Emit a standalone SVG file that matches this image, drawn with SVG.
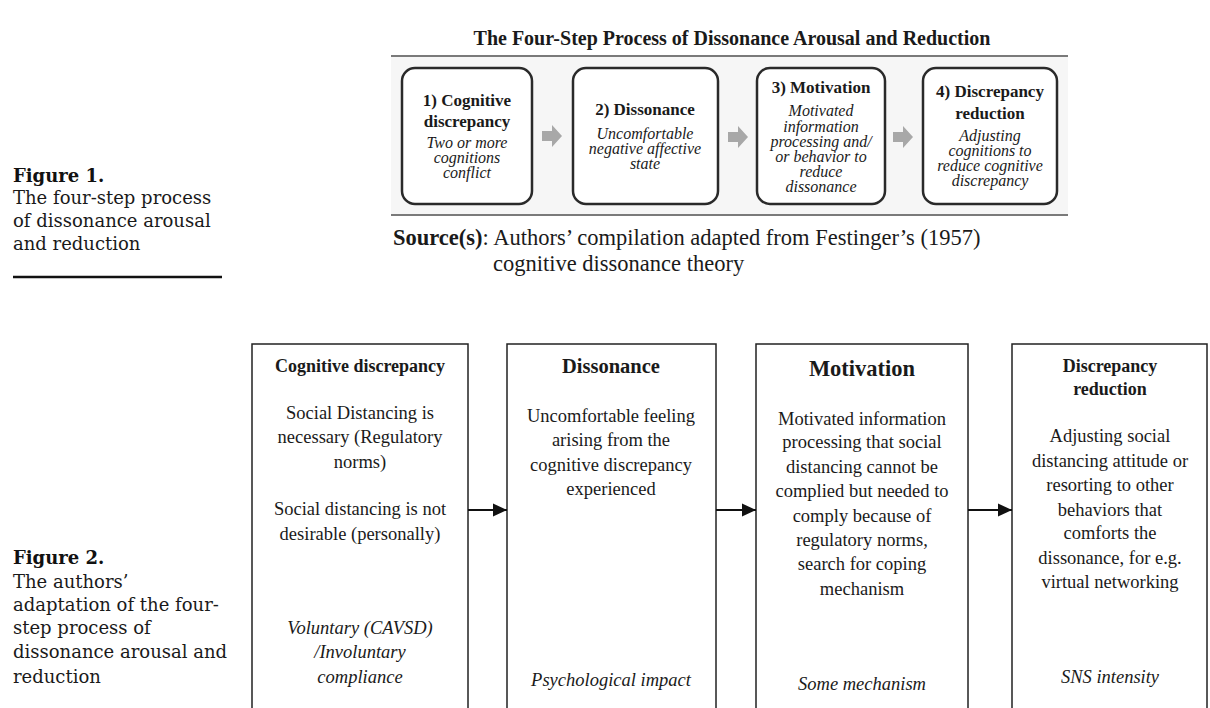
<svg xmlns="http://www.w3.org/2000/svg" width="1210" height="708" viewBox="0 0 1210 708">
<style>
.cap{font-family:"DejaVu Serif","Liberation Serif",serif;font-size:18px;fill:#1a1a1a}
.capb{font-family:"DejaVu Serif","Liberation Serif",serif;font-size:18px;font-weight:bold;fill:#111}
.t{font-family:"Liberation Serif","Times New Roman",serif;fill:#1a1a1a;text-anchor:middle}
.tb{font-weight:bold;font-size:17px}
.ti{font-style:italic;font-size:16px}
.rbox{fill:#fff;stroke:#2a2a2a;stroke-width:2.5}
.sbox{fill:#fff;stroke:#222;stroke-width:1.5}
.bb{font-weight:bold;font-size:18px}
.bd{font-size:18.5px}
.bi{font-style:italic;font-size:18.5px}
.src{font-family:"Liberation Serif","Times New Roman",serif;font-size:22.5px;fill:#1a1a1a}
.conn{stroke:#111;stroke-width:2;fill:none}
</style>
<defs>
<path id="garrow" d="M0,-5 H10 V-11 L20,0 L10,11 V5 H0 Z" fill="#a8a8a8"/>
<marker id="ah" markerWidth="14" markerHeight="14" refX="14" refY="7" orient="auto" markerUnits="userSpaceOnUse">
<path d="M0,0.5 L14,7 L0,13.5 Z" fill="#111"/>
</marker>
</defs>
<rect width="1210" height="708" fill="#fff"/>

<!-- Captions -->
<g id="caption1">
<text class="capb" x="13" y="182">Figure 1.</text>
<text class="cap" x="13" y="204">The four-step process</text>
<text class="cap" x="13" y="227">of dissonance arousal</text>
<text class="cap" x="13" y="250">and reduction</text>
<line x1="13" y1="277" x2="222" y2="277" stroke="#111" stroke-width="2.5"/>
</g>
<g id="caption2">
<text class="capb" x="13" y="564">Figure 2.</text>
<text class="cap" x="13" y="588">The authors’</text>
<text class="cap" x="13" y="611">adaptation of the four-</text>
<text class="cap" x="13" y="634">step process of</text>
<text class="cap" x="13" y="658">dissonance arousal and</text>
<text class="cap" x="13" y="683">reduction</text>
</g>

<!-- Figure 1 -->
<g id="fig1-frame">
<rect x="391" y="57" width="677" height="158" fill="#f6f6f6"/>
<text class="t" x="732" y="45" style="font-weight:bold;font-size:20px">The Four-Step Process of Dissonance Arousal and Reduction</text>
<line x1="391" y1="56" x2="1068" y2="56" stroke="#7a7a7a" stroke-width="2"/>
<line x1="391" y1="215" x2="1068" y2="215" stroke="#7a7a7a" stroke-width="2"/>
</g>
<g id="step1">
<rect class="rbox" x="402" y="68" width="130" height="136" rx="13"/>
<text class="t tb" x="467" y="106">1) Cognitive</text>
<text class="t tb" x="467" y="127">discrepancy</text>
<text class="t ti" x="467" y="148">Two or more</text>
<text class="t ti" x="467" y="163">cognitions</text>
<text class="t ti" x="467" y="178">conflict</text>
</g>
<g id="step2">
<rect class="rbox" x="573" y="68" width="145" height="136" rx="13"/>
<text class="t tb" x="645" y="115">2) Dissonance</text>
<text class="t ti" x="645" y="139">Uncomfortable</text>
<text class="t ti" x="645" y="154">negative affective</text>
<text class="t ti" x="645" y="169">state</text>
</g>
<g id="step3">
<rect class="rbox" x="757" y="68" width="128" height="136" rx="13"/>
<text class="t tb" x="821" y="93">3) Motivation</text>
<text class="t ti" x="821" y="116">Motivated</text>
<text class="t ti" x="821" y="132">information</text>
<text class="t ti" x="821" y="147">processing and/</text>
<text class="t ti" x="821" y="162">or behavior to</text>
<text class="t ti" x="821" y="177">reduce</text>
<text class="t ti" x="821" y="192">dissonance</text>
</g>
<g id="step4">
<rect class="rbox" x="923" y="68" width="134" height="136" rx="13"/>
<text class="t tb" x="990" y="97">4) Discrepancy</text>
<text class="t tb" x="990" y="119">reduction</text>
<text class="t ti" x="990" y="141">Adjusting</text>
<text class="t ti" x="990" y="156">cognitions to</text>
<text class="t ti" x="990" y="171">reduce cognitive</text>
<text class="t ti" x="990" y="186">discrepancy</text>
</g>
<g id="fig1-arrows">
<use href="#garrow" x="542" y="136"/>
<use href="#garrow" x="728" y="137"/>
<use href="#garrow" x="893" y="137"/>
</g>
<g id="source">
<text class="src" x="393" y="245"><tspan font-weight="bold">Source(s)</tspan>: Authors’ compilation adapted from Festinger’s (1957)</text>
<text class="src" x="493" y="271">cognitive dissonance theory</text>
</g>

<!-- Figure 2 -->
<g id="box-cognitive">
<rect class="sbox" x="252" y="344" width="216" height="380"/>
<text class="t bb" x="360" y="372">Cognitive discrepancy</text>
<text class="t bd" x="360" y="419">Social Distancing is</text>
<text class="t bd" x="360" y="443">necessary (Regulatory</text>
<text class="t bd" x="360" y="468">norms)</text>
<text class="t bd" x="360" y="515">Social distancing is not</text>
<text class="t bd" x="360" y="540">desirable (personally)</text>
<text class="t bi" x="360" y="634">Voluntary (CAVSD)</text>
<text class="t bi" x="360" y="658">/Involuntary</text>
<text class="t bi" x="360" y="683">compliance</text>
</g>
<g id="box-dissonance">
<rect class="sbox" x="507" y="344" width="209" height="380"/>
<text class="t" x="611" y="373" style="font-weight:bold;font-size:20.5px">Dissonance</text>
<text class="t bd" x="611" y="422">Uncomfortable feeling</text>
<text class="t bd" x="611" y="446">arising from the</text>
<text class="t bd" x="611" y="471">cognitive discrepancy</text>
<text class="t bd" x="611" y="495">experienced</text>
<text class="t bi" x="611" y="686">Psychological impact</text>
</g>
<g id="box-motivation">
<rect class="sbox" x="756" y="344" width="212" height="380"/>
<text class="t" x="862" y="376" style="font-weight:bold;font-size:22.5px">Motivation</text>
<text class="t bd" x="862" y="425">Motivated information</text>
<text class="t bd" x="862" y="448">processing that social</text>
<text class="t bd" x="862" y="473">distancing cannot be</text>
<text class="t bd" x="862" y="497">complied but needed to</text>
<text class="t bd" x="862" y="522">comply because of</text>
<text class="t bd" x="862" y="546">regulatory norms,</text>
<text class="t bd" x="862" y="570">search for coping</text>
<text class="t bd" x="862" y="595">mechanism</text>
<text class="t bi" x="862" y="690">Some mechanism</text>
</g>
<g id="box-reduction">
<rect class="sbox" x="1012" y="344" width="195" height="380"/>
<text class="t bb" x="1110" y="372">Discrepancy</text>
<text class="t bb" x="1110" y="395">reduction</text>
<text class="t bd" x="1110" y="442">Adjusting social</text>
<text class="t bd" x="1110" y="467">distancing attitude or</text>
<text class="t bd" x="1110" y="491">resorting to other</text>
<text class="t bd" x="1110" y="516">behaviors that</text>
<text class="t bd" x="1110" y="539">comforts the</text>
<text class="t bd" x="1110" y="564">dissonance, for e.g.</text>
<text class="t bd" x="1110" y="588">virtual networking</text>
<text class="t bi" x="1110" y="683">SNS intensity</text>
</g>
<g id="connectors">
<line class="conn" x1="468" y1="510" x2="507" y2="510" marker-end="url(#ah)"/>
<line class="conn" x1="716" y1="510" x2="756" y2="510" marker-end="url(#ah)"/>
<line class="conn" x1="968" y1="510" x2="1012" y2="510" marker-end="url(#ah)"/>
</g>
</svg>
